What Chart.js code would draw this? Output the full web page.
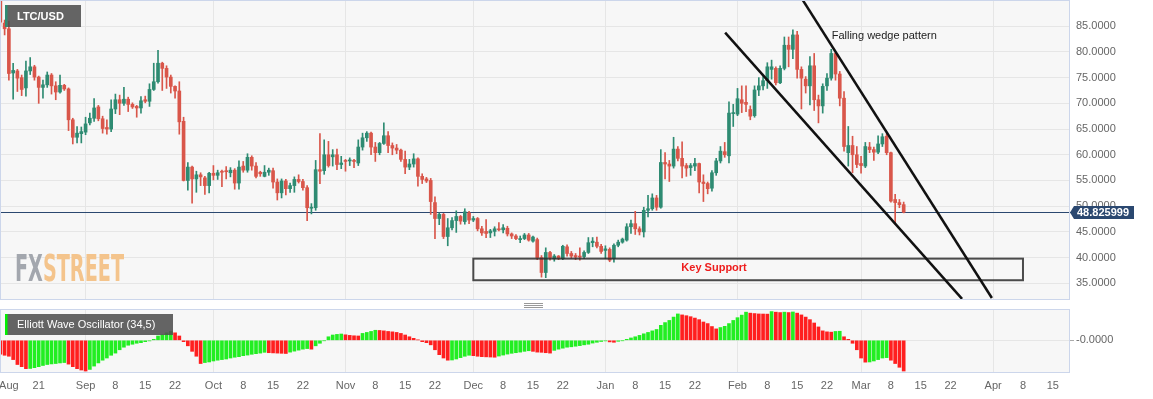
<!DOCTYPE html>
<html><head><meta charset="utf-8">
<script src="https://cdn.jsdelivr.net/npm/chart.js@4.4.1/dist/chart.umd.min.js"></script>
<style>
html,body{margin:0;padding:0;background:#fff;}
#wrap{position:relative;width:1153px;height:399px;overflow:hidden;}
canvas{position:absolute;left:0;}
</style>
</head><body>
<div id="wrap">
<canvas id="main" width="1153" height="300" style="top:0px"></canvas>
<canvas id="osc" width="1153" height="99" style="top:300px"></canvas>
</div>
<script>
// ---------- DATA ----------
const startDate = '2019-08-12';   // first daily candle
const opens = [
90.8,85.6,84.5,75.9,76.3,75.0,73.0,76.3,77.1,75.1,
73.1,73.6,75.5,73.4,72.2,73.5,72.8,66.8,63.4,64.1,
64.4,66.2,67.1,69.3,67.0,65.3,65.0,68.9,70.7,70.0,
70.8,69.8,69.4,69.1,70.7,70.4,72.7,74.2,77.8,76.8,
75.1,73.3,72.4,66.5,55.0,57.6,55.3,56.1,55.5,54.0,
56.4,56.0,56.8,56.9,56.5,57.0,54.5,57.8,57.0,59.5,
57.8,56.6,55.8,56.6,56.9,54.7,52.6,54.9,53.4,54.0,
55.2,54.8,53.6,49.6,49.7,57.1,56.9,60.0,59.6,60.0,
58.1,58.9,58.8,58.9,58.4,61.5,63.3,64.2,61.5,60.4,
62.2,63.7,61.8,61.3,60.9,59.1,57.6,58.2,59.2,55.8,
55.3,55.0,50.7,47.6,48.4,44.1,45.8,47.2,48.0,47.0,
48.7,47.3,47.6,45.6,45.1,44.8,45.1,45.6,45.4,45.7,
44.6,44.2,43.5,43.7,44.4,43.2,43.5,40.0,37.1,41.0,
39.8,40.3,39.8,42.1,40.8,40.4,40.3,40.2,41.0,42.9,
43.0,42.2,41.4,41.6,39.8,42.4,43.0,43.4,46.0,46.6,
45.6,45.0,49.2,49.5,51.6,49.8,58.5,58.2,57.8,61.1,
59.3,57.9,57.5,57.8,58.3,54.7,54.4,53.5,56.5,58.8,
60.6,59.8,68.0,67.9,70.7,70.2,68.8,67.6,72.6,73.4,
74.4,76.6,76.8,74.0,76.8,81.3,80.5,83.3,76.6,74.7,
73.4,77.3,70.7,69.5,73.4,74.9,79.7,75.7,71.0,60.4,
61.8,60.0,58.3,57.8,61.5,61.0,60.5,62.1,63.6,60.4,
51.3,50.7,50.3];
const highs = [
91.5,86.2,86.0,77.8,76.6,75.5,78.2,78.9,77.4,75.3,
74.5,76.1,75.8,74.2,75.5,73.7,73.0,67.1,65.5,65.4,
67.3,68.1,70.9,69.6,67.5,66.8,70.7,71.8,71.6,73.1,
71.2,70.1,69.6,71.3,71.4,73.8,77.8,80.3,78.0,77.3,
75.5,73.4,74.2,67.3,58.5,57.8,56.8,56.5,55.8,56.6,
57.9,57.0,57.0,57.7,57.5,57.3,58.8,58.7,60.2,59.8,
58.5,56.8,57.9,57.4,57.4,55.3,55.3,55.2,54.5,55.7,
56.1,55.2,54.0,50.5,58.9,64.1,62.9,62.6,61.0,61.1,
59.7,59.1,59.4,59.1,62.9,64.2,64.5,64.4,62.4,62.4,
66.2,64.5,62.3,62.0,61.1,60.7,59.1,60.2,59.4,56.3,
55.6,55.4,51.8,48.7,48.6,47.6,47.8,49.1,48.2,49.5,
49.0,48.0,47.8,46.1,47.4,45.5,46.0,46.8,46.4,46.1,
44.8,44.5,44.2,44.7,44.7,44.2,43.8,40.4,41.9,41.2,
40.6,40.4,42.4,42.5,41.2,40.8,41.9,41.3,43.9,43.9,
44.0,42.6,42.3,41.9,42.7,43.4,43.8,46.6,47.3,49.0,
46.0,49.8,52.1,52.4,52.1,61.0,60.4,58.9,63.4,61.6,
62.5,58.3,58.3,59.3,58.4,56.1,54.7,56.9,59.3,61.6,
62.4,70.3,69.8,72.9,73.4,73.4,69.5,73.4,75.0,75.2,
77.9,78.4,77.1,77.3,82.9,82.9,84.3,84.0,77.1,75.2,
79.1,79.7,71.6,73.8,75.8,80.5,80.0,76.2,72.3,65.5,
63.6,61.6,59.7,62.4,62.4,61.5,63.7,64.1,64.1,60.5,
52.3,51.3,50.8];
const lows = [
85.1,83.3,74.5,70.8,72.3,71.5,71.4,75.6,74.5,70.0,
71.0,73.1,71.8,70.7,72.0,72.5,64.7,62.1,62.3,62.3,
63.9,65.8,66.5,66.6,64.2,64.0,64.5,68.0,67.8,69.6,
68.4,69.0,67.3,68.1,70.1,69.4,72.5,73.9,72.5,72.9,
72.0,71.0,64.0,54.9,53.1,50.6,52.7,54.0,52.3,52.6,
55.1,55.2,53.8,55.3,55.7,53.3,53.3,56.6,56.6,57.0,
55.5,55.8,55.7,56.0,53.5,51.2,51.6,52.2,52.7,52.7,
54.5,53.1,47.2,48.5,49.2,54.4,56.2,57.6,57.8,57.1,
57.3,56.8,57.9,57.5,57.9,60.9,62.6,60.0,58.7,60.0,
62.0,60.4,60.0,60.2,58.7,56.3,57.1,57.6,53.9,54.4,
54.6,48.4,43.7,46.4,43.7,42.3,45.4,44.9,46.5,46.5,
46.6,47.0,45.2,44.3,43.9,43.9,44.2,45.2,44.8,44.2,
43.7,43.5,42.9,43.5,43.2,43.0,39.6,36.2,36.1,39.5,
39.3,39.6,39.6,40.3,39.9,39.6,39.5,39.8,40.8,42.1,
41.9,40.8,39.8,39.2,39.1,42.1,42.8,43.2,44.7,44.5,
44.4,44.0,47.9,49.2,49.2,49.6,55.3,54.8,57.4,58.8,
55.5,55.8,56.0,56.9,52.6,50.9,52.4,52.9,56.0,58.4,
59.5,58.4,65.5,67.6,68.2,68.4,66.8,67.3,71.5,72.6,
72.9,74.7,73.6,73.8,76.5,77.1,78.7,74.9,68.9,72.0,
69.7,68.6,66.2,68.1,72.5,74.5,74.5,69.5,60.7,57.8,
56.5,57.5,56.4,57.5,60.4,58.9,60.2,61.6,60.0,50.8,
46.5,49.7,48.7];
const closes = [
85.8,84.5,75.8,76.4,74.9,72.7,76.3,77.1,75.1,73.1,
73.6,75.5,73.4,72.2,73.5,72.8,66.8,63.4,64.2,64.5,
66.0,67.1,69.1,67.0,65.1,65.0,68.9,70.7,70.0,70.8,
69.8,69.3,69.1,70.5,70.4,72.7,74.2,77.8,76.8,75.1,
73.3,72.4,66.4,55.0,57.6,55.3,56.1,55.7,54.0,56.4,
56.0,56.5,56.6,56.7,57.0,54.5,57.6,57.0,59.5,57.8,
55.8,56.3,56.6,57.0,54.7,52.6,54.9,53.4,54.0,55.2,
54.8,53.6,49.7,49.8,57.1,56.8,60.0,57.9,60.0,58.1,
58.4,58.7,59.0,58.7,61.5,63.3,64.2,61.5,60.4,62.2,
63.7,61.8,61.3,60.9,59.1,57.6,58.2,59.2,55.8,55.2,
54.9,50.9,47.6,48.4,44.1,45.8,47.2,48.0,47.1,48.9,
47.3,47.6,45.6,44.8,44.7,45.2,45.6,45.4,45.8,44.6,
44.2,43.7,43.7,44.4,43.4,44.0,40.0,37.1,41.0,40.0,
40.3,39.9,42.2,40.8,40.3,40.1,40.1,41.0,42.9,43.2,
42.2,41.2,41.7,39.5,42.4,43.0,43.6,46.0,46.6,45.6,
45.0,49.2,49.5,51.6,49.8,58.5,58.2,57.8,61.1,59.3,
57.8,57.4,57.9,58.3,54.7,54.4,53.4,56.5,58.8,60.7,
60.0,68.1,68.2,70.9,70.0,69.8,67.5,72.6,73.4,74.4,
77.1,77.1,74.0,76.8,81.3,80.5,83.3,76.6,74.9,73.4,
77.3,70.7,69.5,73.3,74.9,79.7,75.7,71.0,61.6,61.8,
60.0,58.1,57.9,61.6,61.0,60.5,62.1,63.5,60.4,51.0,
50.7,50.3,48.825999];
// Elliott Wave Oscillator (34,5) values
const ewo = [
-7.0,-7.6,-8.1,-9.8,-12.3,-13.4,-14.4,-14.3,-13.9,-13.4,
-12.8,-12.3,-12.0,-11.8,-11.5,-11.3,-12.1,-13.4,-14.4,-15.1,
-15.6,-14.8,-13.1,-11.5,-10.1,-9.0,-7.6,-6.5,-4.8,-3.5,
-2.5,-2.0,-1.5,-1.2,-0.7,-0.3,0.5,2.2,2.8,3.8,
4.5,3.8,2.2,-0.7,-2.8,-5.6,-8.1,-11.8,-11.3,-11.0,
-10.5,-10.1,-9.8,-9.5,-9.0,-8.6,-8.3,-7.8,-7.5,-7.1,
-6.8,-6.5,-6.1,-6.3,-6.4,-6.5,-6.6,-6.7,-6.0,-5.5,
-5.0,-4.5,-4.2,-4.5,-2.8,-1.5,-0.2,1.8,2.7,3.0,
3.2,2.8,2.5,2.3,2.2,3.5,4.0,4.5,5.1,5.0,
4.8,4.5,4.3,4.0,3.5,2.7,1.8,1.0,0.2,-0.7,
-1.2,-2.3,-4.8,-7.3,-9.0,-10.1,-10.0,-9.5,-8.8,-8.1,
-7.6,-7.8,-8.1,-8.3,-8.4,-8.5,-8.6,-8.0,-7.5,-7.0,
-6.6,-6.3,-6.0,-5.6,-5.3,-5.6,-6.0,-6.1,-6.3,-6.5,
-5.1,-4.5,-4.0,-3.5,-3.3,-3.0,-2.7,-2.3,-2.0,-1.4,
-1.0,-0.6,-0.3,-0.8,-1.0,-0.5,-0.2,0.5,1.2,1.8,
2.5,3.3,4.0,4.8,5.5,7.6,9.0,10.1,11.8,13.4,
12.9,12.5,12.0,11.3,10.5,9.3,8.5,7.0,5.8,6.5,
7.1,8.5,10.1,11.5,12.8,14.3,13.8,13.6,13.4,13.35,
13.3,14.6,14.3,14.1,14.3,14.1,14.4,13.8,12.9,11.8,
10.5,8.8,6.8,4.8,4.3,4.15,4.5,4.6,1.8,0.5,
-1.5,-4.8,-9.0,-11.1,-11.0,-10.5,-9.8,-9.0,-8.8,-10.1,
-11.8,-13.7,-15.6];
const tickDates = ['2019-08-14','2019-08-21','2019-09-01','2019-09-08','2019-09-15','2019-09-22',
'2019-10-01','2019-10-08','2019-10-15','2019-10-22','2019-11-01','2019-11-08','2019-11-15','2019-11-22',
'2019-12-01','2019-12-08','2019-12-15','2019-12-22','2020-01-01','2020-01-08','2020-01-15','2020-01-22',
'2020-02-01','2020-02-08','2020-02-15','2020-02-22','2020-03-01','2020-03-08','2020-03-15','2020-03-22',
'2020-04-01','2020-04-08','2020-04-15'];
const tickLabels = ['Aug','21','Sep','8','15','22','Oct','8','15','22','Nov','8','15','22',
'Dec','8','15','22','Jan','8','15','22','Feb','8','15','22','Mar','8','15','22','Apr','8','15'];
const monthStarts = ['2019-09-01','2019-10-01','2019-11-01','2019-12-01','2020-01-01','2020-02-01','2020-03-01','2020-04-01'];
const priceTicksStep = 5;
const symbol = 'LTC/USD';
const oscTitle = 'Elliott Wave Oscillator (34,5)';
// annotations (date index / price)
const supportBox = {from:'2019-12-01', to:'2020-04-08', low:35.6, high:39.8, text:'Key Support', textAt:[167.5, 37.97]};
const wedgeLower = [[170.1, 83.74],[225.7, 31.97]];
const wedgeUpper = [[188.3, 90.1],[232.7, 32.14]];
const wedgeText = {text:'Falling wedge pattern', at:[195.1, 83.15]};

// ---------- HELPERS ----------
const DAY = 86400000;
const dayIdx = s => Math.round((Date.parse(s) - Date.parse(startDate)) / DAY);
const tickIdx = tickDates.map(dayIdx);
const labelMap = new Map(tickIdx.map((v,i)=>[v, tickLabels[i]]));
const monthSet = new Set(monthStarts.map(dayIdx));
const X_MIN = 0.15, X_MAX = 250.8;
const Y_MIN = 31.95, Y_MAX = 89.9;
const OSC_MIN = -16.1, OSC_MAX = 15.4;
const lastPrice = closes[closes.length-1];

Chart.defaults.font.family = "'Liberation Sans', Arial, Helvetica, sans-serif";
Chart.defaults.font.size = 11;
Chart.defaults.color = '#666';

const GREEN = '#2e8b72', RED = '#d9564a';
const OSC_GREEN = '#22ee22', OSC_RED = '#ff1f1f';
const N = opens.length;
const ids = Array.from({length:N}, (_,i)=>i);
const candleColors = ids.map(i => closes[i] >= opens[i] ? GREEN : RED);
const oscColors = ids.map(i => (i > 0 && ewo[i] > ewo[i-1]) ? OSC_GREEN : OSC_RED);

const noPad = ax => { ax.paddingTop = 0; ax.paddingBottom = 0; ax.paddingLeft = 0; ax.paddingRight = 0; };

function xScale(showLabels){
  return {
    type:'linear', min:X_MIN, max:X_MAX, offset:false,
    afterBuildTicks: ax => { ax.ticks = tickIdx.map(v => ({value:v})); },
    grid:{ offset:false, drawTicks:false, lineWidth:1,
      color: c => (c.tick && monthSet.has(c.tick.value)) ? '#e6e6e6' : 'rgba(0,0,0,0)' },
    border:{display:false},
    ticks:{ display:showLabels, autoSkip:false, maxRotation:0, minRotation:0, padding:7,
      color:'#666', font:{size:11}, callback: v => labelMap.has(v) ? labelMap.get(v) : '' },
    afterFit: ax => { ax.height = showLabels ? 27 : 0; noPad(ax); }
  };
}
function frame(ctx, a){
  ctx.save();
  ctx.strokeStyle = '#ccd6eb'; ctx.lineWidth = 1;
  ctx.strokeRect(a.left - 0.5, a.top - 0.5, a.right - a.left + 1, a.bottom - a.top + 1);
  ctx.restore();
}
function labelBox(ctx, x, y, w, h, strip, text, bold){
  ctx.save();
  ctx.fillStyle = 'rgba(80,80,80,0.88)'; ctx.fillRect(x, y, w, h);
  ctx.fillStyle = strip; ctx.fillRect(x, y, 2.5, h);
  ctx.fillStyle = '#fff'; ctx.textBaseline = 'middle'; ctx.textAlign = 'left';
  ctx.font = (bold ? 'bold ' : '') + "11px 'Liberation Sans', Arial, sans-serif";
  ctx.fillText(text, x + 12, y + h/2 + 0.5);
  ctx.restore();
}

const mainDeco = {
  id:'mainDeco',
  beforeDraw(chart){
    const {ctx, chartArea:a} = chart;
    ctx.save(); ctx.fillStyle = '#f7f7f7';
    ctx.fillRect(a.left, a.top, a.right - a.left, a.bottom - a.top); ctx.restore();
  },
  beforeDatasetsDraw(chart){
    const {ctx, chartArea:a, scales:{y}} = chart;
    // watermark
    ctx.save();
    ctx.font = "bold 38px 'Liberation Sans Narrow','DejaVu Sans Condensed','Liberation Sans',sans-serif";
    const w1 = ctx.measureText('FX').width, w2 = ctx.measureText('STREET').width;
    const s = 109 / (w1 + w2);
    ctx.translate(15, 281); ctx.scale(s, 1);
    ctx.fillStyle = '#a3a7ae'; ctx.fillText('FX', 0, 0);
    ctx.fillStyle = '#f4c48c'; ctx.fillText('STREET', w1, 0);
    ctx.restore();
    // current price line
    const py = Math.round(y.getPixelForValue(lastPrice)) + 0.5;
    ctx.save(); ctx.strokeStyle = '#2b4870'; ctx.lineWidth = 1;
    ctx.beginPath(); ctx.moveTo(a.left, py); ctx.lineTo(a.right + 4, py); ctx.stroke(); ctx.restore();
  },
  afterDatasetsDraw(chart){
    const {ctx, chartArea:a, scales:{x, y}} = chart;
    ctx.save();
    ctx.beginPath(); ctx.rect(a.left, a.top, a.right - a.left, a.bottom - a.top); ctx.clip();
    // key support box
    const bx0 = x.getPixelForValue(dayIdx(supportBox.from)), bx1 = x.getPixelForValue(dayIdx(supportBox.to));
    const by0 = y.getPixelForValue(supportBox.high), by1 = y.getPixelForValue(supportBox.low);
    ctx.strokeStyle = 'rgba(45,45,45,0.85)'; ctx.lineWidth = 2;
    ctx.strokeRect(bx0, by0, bx1 - bx0, by1 - by0);
    ctx.fillStyle = '#ee1c1c'; ctx.font = "bold 11px 'Liberation Sans', Arial, sans-serif";
    ctx.textAlign = 'center'; ctx.textBaseline = 'middle';
    ctx.fillText(supportBox.text, x.getPixelForValue(supportBox.textAt[0]), y.getPixelForValue(supportBox.textAt[1]));
    // wedge lines
    ctx.strokeStyle = '#111'; ctx.lineWidth = 2.5; ctx.lineCap = 'butt';
    [wedgeLower, wedgeUpper].forEach(l => {
      ctx.beginPath();
      ctx.moveTo(x.getPixelForValue(l[0][0]), y.getPixelForValue(l[0][1]));
      ctx.lineTo(x.getPixelForValue(l[1][0]), y.getPixelForValue(l[1][1]));
      ctx.stroke();
    });
    ctx.fillStyle = '#222'; ctx.font = "11px 'Liberation Sans', Arial, sans-serif";
    ctx.textAlign = 'left'; ctx.textBaseline = 'middle';
    ctx.fillText(wedgeText.text, x.getPixelForValue(wedgeText.at[0]), y.getPixelForValue(wedgeText.at[1]));
    ctx.restore();
    labelBox(ctx, 5, 5, 76, 22, GREEN, symbol, true);
    frame(ctx, a);
    // price label on the axis
    const py = Math.round(y.getPixelForValue(lastPrice)) + 0.5;
    ctx.save();
    ctx.fillStyle = '#2b4870';
    ctx.beginPath();
    ctx.moveTo(a.right + 1, py); ctx.lineTo(a.right + 5, py - 6.5); ctx.lineTo(a.right + 65, py - 6.5);
    ctx.lineTo(a.right + 65, py + 6.5); ctx.lineTo(a.right + 5, py + 6.5); ctx.closePath(); ctx.fill();
    ctx.fillStyle = '#fff'; ctx.font = "bold 11px 'Liberation Sans', Arial, sans-serif";
    ctx.textAlign = 'left'; ctx.textBaseline = 'middle';
    ctx.fillText(lastPrice.toFixed(6), a.right + 8, py + 0.5);
    ctx.restore();
  }
};

const oscDeco = {
  id:'oscDeco',
  beforeDraw(chart){
    const {ctx, chartArea:a} = chart;
    ctx.save(); ctx.fillStyle = '#f7f7f7';
    ctx.fillRect(a.left, a.top, a.right - a.left, a.bottom - a.top); ctx.restore();
  },
  afterDatasetsDraw(chart){
    const {ctx, chartArea:a} = chart;
    labelBox(ctx, 5, 14, 168, 21, '#00f000', oscTitle, false);
    frame(ctx, a);
    // resize handle between panels
    ctx.save(); ctx.strokeStyle = '#999'; ctx.lineWidth = 1;
    [3.5, 5.5, 7.5].forEach(yy => { ctx.beginPath(); ctx.moveTo(524, yy); ctx.lineTo(543, yy); ctx.stroke(); });
    ctx.restore();
  }
};

new Chart(document.getElementById('main'), {
  type:'bar',
  data:{ datasets:[
    { label:'wick', data: ids.map(i => ({x:i, y:[lows[i], highs[i]]})), backgroundColor:candleColors,
      barThickness:1, grouped:false, order:2 },
    { label:'body', data: ids.map(i => ({x:i, y:[opens[i], closes[i]]})), backgroundColor:candleColors,
      barThickness:3, minBarLength:1, grouped:false, order:1 }
  ]},
  options:{
    responsive:false, animation:false, events:[],
    layout:{padding:{left:1, top:1, right:0, bottom:1}},
    plugins:{legend:{display:false}, tooltip:{enabled:false}},
    scales:{
      x: xScale(false),
      y: { position:'right', min:Y_MIN, max:Y_MAX,
        grid:{color:'#e6e6e6', tickLength:5, tickColor:'rgba(0,0,0,0)'},
        border:{display:false},
        ticks:{stepSize:priceTicksStep, includeBounds:false, padding:2, color:'#666', font:{size:11},
          callback: v => Number(v).toFixed(4)},
        afterFit: ax => { ax.width = 84; noPad(ax); } }
    }
  },
  plugins:[mainDeco]
});

new Chart(document.getElementById('osc'), {
  type:'bar',
  data:{ datasets:[
    { label:'EWO', data: ids.map(i => ({x:i, y:ewo[i]})), backgroundColor:oscColors,
      barThickness:3, grouped:false }
  ]},
  options:{
    responsive:false, animation:false, events:[],
    layout:{padding:{left:1, top:10, right:0, bottom:0}},
    plugins:{legend:{display:false}, tooltip:{enabled:false}},
    scales:{
      x: xScale(true),
      y: { position:'right', min:OSC_MIN, max:OSC_MAX,
        afterBuildTicks: ax => { ax.ticks = [{value:0}]; },
        grid:{color:'#e6e6e6', tickLength:5, tickColor:'#aaa'},
        border:{display:false},
        ticks:{padding:2, color:'#666', font:{size:11}, callback: () => '-0.0000'},
        afterFit: ax => { ax.width = 84; noPad(ax); } }
    }
  },
  plugins:[oscDeco]
});
</script>
</body></html>
